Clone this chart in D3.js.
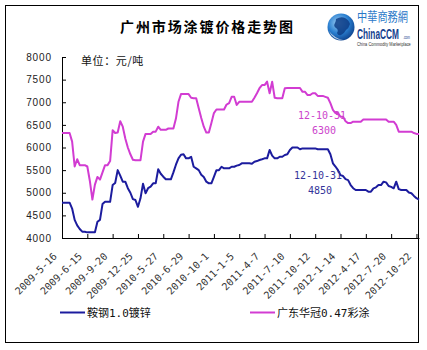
<!DOCTYPE html>
<html>
<head>
<meta charset="utf-8">
<script src="https://cdn.jsdelivr.net/npm/d3@7"></script>
<style>
  body { margin: 0; background: #fff; }
  svg { display: block; }
</style>
</head>
<body>
<svg id="chart" width="427" height="350"></svg>
<script>
// Category labels shown on the x axis (one every 10 reporting dates)
const dateLabels = ["2009-5-16","2009-6-15","2009-9-20","2009-12-25","2010-5-27","2010-6-29",
  "2010-10-1","2011-1-5","2011-4-7","2011-7-10","2011-10-12","2012-1-14","2012-4-17",
  "2012-7-20","2012-10-22"];
const labelStep = 10;

// 鞍钢1.0镀锌, yuan/ton
const galvanized = [
  4780,4780,4780,4780,4650,4400,4280,4200,4140,4140,
  4125,4125,4125,4125,4360,4400,4750,4800,4800,4800,
  5170,5215,5500,5380,5245,5245,5100,5000,4860,4840,
  4690,4877,5200,4990,5100,5134,5208,5208,5520,5420,
  5355,5297,5297,5297,5450,5620,5760,5840,5850,5760,
  5760,5796,5575,5540,5500,5400,5350,5245,5208,5208,
  5350,5500,5500,5575,5540,5540,5540,5575,5575,5600,
  5613,5650,5650,5650,5650,5640,5686,5700,5723,5740,
  5760,5760,5945,5820,5760,5760,5796,5796,5834,5850,
  5945,6000,6000,6000,5960,5980,5980,5980,5980,5980,
  5980,5960,5960,5960,5960,5960,5850,5650,5580,5500,
  5390,5370,5300,5280,5170,5100,5060,5060,5060,5060,
  5060,5023,5023,5098,5120,5170,5170,5245,5230,5150,
  5130,5098,5245,5080,5060,5060,5060,5005,4990,4930,
  4880,4850
];

// 广东华冠0.47彩涂, yuan/ton
const coated = [
  6320,6320,6320,6320,6130,5580,5740,5610,5610,5610,
  5580,5260,4850,5180,5350,5290,5450,5610,5610,5700,
  6380,6320,6330,6580,6460,6200,6000,5850,5730,5720,
  5720,5720,6130,6300,6300,6300,6350,6350,6460,6390,
  6390,6390,6420,6420,6420,6640,7010,7180,7180,7180,
  7180,7100,7090,7090,6870,6650,6460,6330,6330,6540,
  6760,6840,6840,6840,6840,6950,6980,7120,7120,6940,
  7010,7010,7010,7010,7010,7010,7100,7200,7310,7380,
  7380,7455,7200,7455,7100,7090,7090,7090,7310,7315,
  7315,7315,7315,7315,7315,7230,7230,7160,7160,7200,
  7200,7140,7140,7140,7120,7100,6980,6830,6760,6760,
  6680,6680,6580,6540,6540,6570,6570,6570,6570,6620,
  6620,6620,6620,6620,6620,6620,6620,6620,6620,6570,
  6570,6570,6500,6350,6350,6350,6350,6350,6350,6320,
  6300,6300
];

const yTicks = [4000,4500,5000,5500,6000,6500,7000,7500,8000];
const seriesNames = ["鞍钢1.0镀锌", "广东华冠0.47彩涂"];
const lastDate = "12-10-31";
const titleText = "广州市场涂镀价格走势图";
const unitText = "单位：元/吨";

const blue = "#1c1c9e";
const pink = "#d23cd2";
const monoFont = "'DejaVu Sans Mono', 'Noto Sans CJK SC', monospace";
const cjkFont = "'Noto Sans CJK SC', sans-serif";
const sansFont = "'Liberation Sans', Arial, sans-serif";

const svg = d3.select("#chart");

// outer frame
svg.append("rect")
  .attr("x", 5.5).attr("y", 5.5)
  .attr("width", 413).attr("height", 337)
  .attr("fill", "#fff").attr("stroke", "#000").attr("stroke-width", 1);

// scales
const x = d3.scaleLinear().domain([0, galvanized.length - 1]).range([62, 419]);
const y = d3.scaleLinear().domain([4000, 8000]).range([238, 57]);

// y axis
const yAxis = svg.append("g")
  .attr("transform", "translate(62,0)")
  .call(d3.axisLeft(y).tickValues(yTicks).tickFormat(d3.format("d"))
    .tickSize(-4).tickSizeOuter(0).tickPadding(10));
yAxis.selectAll("text")
  .attr("font-family", sansFont)
  .attr("font-size", 10)
  .attr("letter-spacing", 0.9)
  .attr("fill", "#222");

// x axis
const xAxis = svg.append("g")
  .attr("transform", "translate(0,238)")
  .call(d3.axisBottom(x)
    .tickValues(d3.range(0, dateLabels.length * labelStep, labelStep))
    .tickFormat(i => dateLabels[i / labelStep])
    .tickSize(-4).tickSizeOuter(0));
xAxis.selectAll("text")
  .attr("y", 0).attr("dy", 0)
  .attr("text-anchor", "end")
  .attr("transform", "translate(-5,19) rotate(-45)")
  .attr("font-family", monoFont)
  .attr("font-size", 10)
  .attr("fill", "#333");
svg.selectAll(".domain, .tick line").attr("stroke", "#000");

// series lines
const line = d3.line().x((d, i) => x(i)).y(d => y(d));
svg.append("path").datum(coated)
  .attr("d", line).attr("fill", "none")
  .attr("stroke", pink).attr("stroke-width", 2).attr("stroke-linejoin", "round");
svg.append("path").datum(galvanized)
  .attr("d", line).attr("fill", "none")
  .attr("stroke", blue).attr("stroke-width", 2).attr("stroke-linejoin", "round");

// latest-value callouts
const lastI = galvanized.length - 1;
const callouts = [
  { v: coated[lastI], color: "#cc44cc", y1: 119, y2: 134, cx: 322 },
  { v: galvanized[lastI], color: "#34349a", y1: 179, y2: 194, cx: 318 }
];
callouts.forEach(c => {
  svg.append("text").attr("x", c.cx).attr("y", c.y1)
    .attr("text-anchor", "middle").attr("font-family", monoFont)
    .attr("font-size", 10).attr("fill", c.color).text(lastDate);
  svg.append("text").attr("x", c.cx + 2).attr("y", c.y2)
    .attr("text-anchor", "middle").attr("font-family", monoFont)
    .attr("font-size", 10).attr("fill", c.color).text(c.v);
});

// title and unit
svg.append("text").attr("x", 120).attr("y", 32)
  .attr("font-family", cjkFont).attr("font-size", 14).attr("font-weight", "bold")
  .attr("letter-spacing", 1.9).attr("fill", "#000").text(titleText);
svg.append("text").attr("x", 81).attr("y", 65)
  .attr("font-family", cjkFont).attr("font-size", 11)
  .attr("letter-spacing", 0.6).attr("fill", "#111").text(unitText);

// legend
const legend = [
  { name: seriesNames[0], color: blue, x0: 60 },
  { name: seriesNames[1], color: pink, x0: 250 }
];
legend.forEach(l => {
  svg.append("line").attr("x1", l.x0).attr("x2", l.x0 + 25)
    .attr("y1", 312.5).attr("y2", 312.5)
    .attr("stroke", l.color).attr("stroke-width", 2);
  svg.append("text").attr("x", l.x0 + 27).attr("y", 317)
    .attr("font-family", monoFont).attr("font-size", 11)
    .attr("fill", "#111").text(l.name);
});

// site logo
const defs = svg.append("defs");
const grad = defs.append("radialGradient").attr("id", "globe")
  .attr("cx", "40%").attr("cy", "35%").attr("r", "70%");
grad.append("stop").attr("offset", "0%").attr("stop-color", "#9fd0f5");
grad.append("stop").attr("offset", "55%").attr("stop-color", "#2a7fd0");
grad.append("stop").attr("offset", "100%").attr("stop-color", "#0d3f8a");
const logo = svg.append("g");
logo.append("circle").attr("cx", 341).attr("cy", 27).attr("r", 13.5).attr("fill", "url(#globe)");
logo.append("path")
  .attr("d", "M336,19 q5,-3 9,-1 q4,2 5,6 q-1,4 -4,6 q-2,4 -5,5 q-3,1 -4,-2 q2,-3 -1,-5 q-3,-2 -1,-5 q1,-2 1,-4z")
  .attr("fill", "#0e3d86").attr("opacity", 0.85);
logo.append("path")
  .attr("d", "M329,31 q4,9 14,9 q-9,-2 -14,-9z")
  .attr("fill", "#ffffff").attr("opacity", 0.7);

// condensed logo lettering: each word is squeezed horizontally to its width
function squeezed(str, x0, y0, width, size, family, weight, color) {
  const t = logo.append("text")
    .attr("font-family", family).attr("font-size", size)
    .attr("font-weight", weight).attr("fill", color).text(str);
  const natural = t.node().getComputedTextLength();
  t.attr("transform", `translate(${x0},${y0}) scale(${width / natural},1)`);
  return t;
}
squeezed("中華商務網", 357, 21, 51, 13, "'Noto Sans CJK TC', sans-serif", "normal", "#2a78c8");
squeezed("ChinaCCM", 357, 39, 42, 14, sansFont, "bold", "#143f8f");
squeezed(".com", 403, 39, 7, 4.5, sansFont, "normal", "#143f8f");
squeezed("China Commodity Marketplace", 357, 46, 54, 4.5, sansFont, "normal", "#333");
</script>
</body>
</html>
